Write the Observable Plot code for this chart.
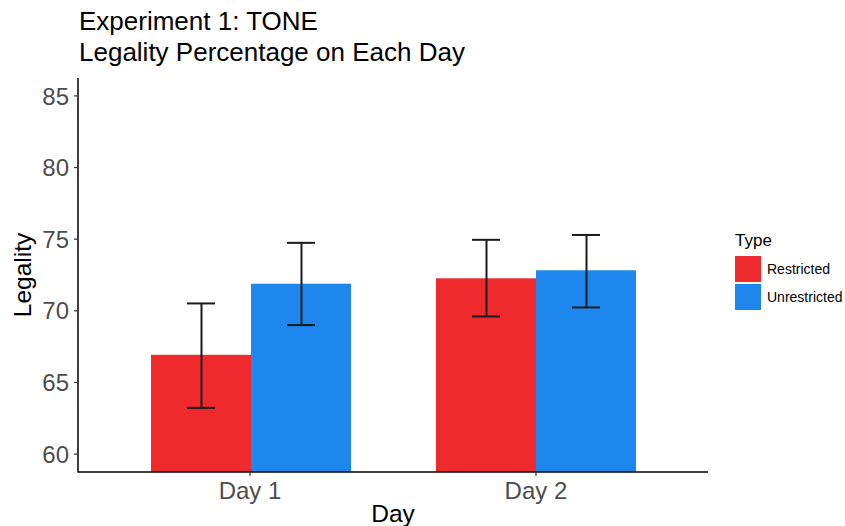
<!DOCTYPE html>
<html>
<head>
<meta charset="utf-8">
<script src="https://cdn.jsdelivr.net/npm/d3@7"></script>
<script src="https://cdn.jsdelivr.net/npm/@observablehq/plot@0.6"></script>
<style>
  html, body { margin: 0; padding: 0; background: #fff; }
  #wrap { position: relative; width: 845px; height: 526px; font-family: "Liberation Sans", Arial, sans-serif; }
  #title { position: absolute; left: 79px; top: 6px; font-size: 26px; line-height: 31px; color: #000; }
  #chart { position: absolute; left: 0; top: 75px; }
  #legend { position: absolute; left: 735px; top: 231px; color: #000; }
  #legend .head { font-size: 17px; margin-bottom: 4px; }
  #legend .row { display: flex; align-items: center; height: 28px; }
  #legend .sw { width: 26px; height: 26px; margin-right: 6px; }
  #legend .lab { font-size: 14px; }
</style>
</head>
<body>
<div id="wrap">
  <div id="title">Experiment 1: TONE<br>Legality Percentage on Each Day</div>
  <div id="chart"></div>
  <div id="legend"></div>
</div>
<script>
const days = ["Day 1", "Day 1", "Day 2", "Day 2"];
const types = ["Restricted", "Unrestricted", "Restricted", "Unrestricted"];
const means = [66.93, 71.89, 72.27, 72.83];
const lowers = [63.26, 69.04, 69.64, 70.27];
const uppers = [70.55, 74.78, 74.99, 75.33];
const typeDomain = ["Restricted", "Unrestricted"];
const dayDomain = ["Day 1", "Day 2"];
const colors = ["#ee2a2d", "#1e87ee"];
const yTicks = [60, 65, 70, 75, 80, 85];
const yDomain = [58.75, 86.25];

const data = days.map((d, i) => ({day: d, type: types[i], mean: means[i], lo: lowers[i], hi: uppers[i], base: yDomain[0]}));

const W = 845, H = 451;
const mL = 78, mR = 137, mT = 3, mB = 54;

const chart = Plot.plot({
  width: W,
  height: H,
  marginLeft: mL,
  marginRight: mR,
  marginTop: mT,
  marginBottom: mB,
  style: {fontFamily: "Liberation Sans, Arial, sans-serif", background: "#fff"},
  fx: {domain: dayDomain, paddingInner: 0.3, paddingOuter: 0.2517, label: null, axis: null},
  x: {domain: typeDomain, padding: 0, axis: null},
  y: {domain: yDomain, ticks: yTicks, label: null, axis: null},
  color: {domain: typeDomain, range: colors},
  facet: {data: data, x: "day"},
  marks: [
    Plot.barY(data, {x: "type", y1: "base", y2: "mean", fill: "type"}),
    Plot.ruleX(data, {x: "type", y1: "lo", y2: "hi", stroke: "#1a1a1a", strokeWidth: 2}),
    Plot.tickY(data, {x: "type", y: "lo", stroke: "#1a1a1a", strokeWidth: 2, insetLeft: 36, insetRight: 36}),
    Plot.tickY(data, {x: "type", y: "hi", stroke: "#1a1a1a", strokeWidth: 2, insetLeft: 36, insetRight: 36})
  ]
});
document.getElementById("chart").appendChild(chart);

// axes drawn with the plot's own scales
const svg = d3.select(chart);
const ys = chart.scale("y");
const fxs = chart.scale("fx");
const yScale = d3.scaleLinear().domain(ys.domain).range(ys.range);
const fxScale = d3.scaleBand().domain(fxs.domain).range(fxs.range).paddingInner(fxs.paddingInner ?? 0.3).paddingOuter(fxs.paddingOuter ?? 0.2517);
const bottom = H - mB;
const g = svg.append("g").attr("font-family", "Liberation Sans, Arial, sans-serif");
// y axis line
g.append("line").attr("x1", mL).attr("x2", mL).attr("y1", mT).attr("y2", bottom + 0.5).attr("stroke", "#000").attr("stroke-width", 1.5);
// x axis line
g.append("line").attr("x1", mL).attr("x2", W - mR).attr("y1", bottom).attr("y2", bottom).attr("stroke", "#000").attr("stroke-width", 1.5);
// y ticks
yTicks.forEach(t => {
  const y = yScale(t);
  g.append("line").attr("x1", mL - 4).attr("x2", mL).attr("y1", y).attr("y2", y).attr("stroke", "#333").attr("stroke-width", 1.2);
  g.append("text").attr("x", mL - 9).attr("y", y).attr("dy", "0.36em").attr("text-anchor", "end")
    .attr("font-size", 24).attr("fill", "#4d4d4d").text(t);
});
// x ticks
dayDomain.forEach(d => {
  const x = fxScale(d) + fxScale.bandwidth() / 2;
  g.append("line").attr("x1", x).attr("x2", x).attr("y1", bottom).attr("y2", bottom + 4).attr("stroke", "#333").attr("stroke-width", 1.2);
  g.append("text").attr("x", x).attr("y", bottom + 27).attr("text-anchor", "middle")
    .attr("font-size", 24).attr("fill", "#4d4d4d").text(d);
});
// axis titles
g.append("text").attr("x", (mL + W - mR) / 2).attr("y", bottom + 50).attr("text-anchor", "middle").attr("font-size", 24.5).attr("fill", "#000").text("Day");
g.append("text").attr("transform", `translate(31,${(mT + bottom) / 2}) rotate(-90)`).attr("text-anchor", "middle").attr("font-size", 24.5).attr("fill", "#000").text("Legality");

// legend
const leg = document.getElementById("legend");
const head = document.createElement("div");
head.className = "head"; head.textContent = "Type";
leg.appendChild(head);
typeDomain.forEach((t, i) => {
  const row = document.createElement("div"); row.className = "row";
  const sw = document.createElement("div"); sw.className = "sw"; sw.style.background = colors[i];
  const lab = document.createElement("div"); lab.className = "lab"; lab.textContent = t;
  row.appendChild(sw); row.appendChild(lab); leg.appendChild(row);
});
</script>
</body>
</html>
